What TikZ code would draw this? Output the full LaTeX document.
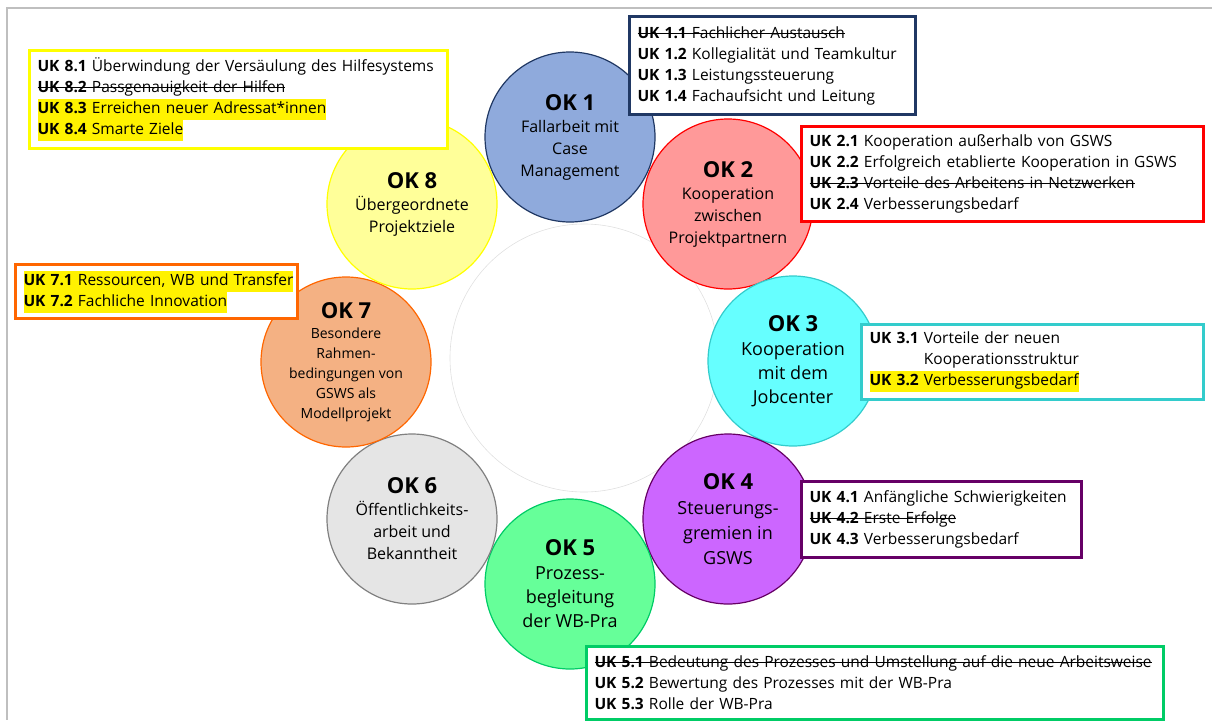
\documentclass[tikz,border=0pt]{standalone}
\usepackage{fontspec}
\setmainfont{Open Sans}
\usepackage{xcolor}
\usepackage{tikz}

\definecolor{okonefill}{HTML}{8FAADC}
\definecolor{okoneline}{HTML}{203864}
\definecolor{oktwofill}{HTML}{FF9999}
\definecolor{oktwoline}{HTML}{FF0000}
\definecolor{okthreefill}{HTML}{66FFFF}
\definecolor{okthreeline}{HTML}{33CCCC}
\definecolor{okfourfill}{HTML}{CC66FF}
\definecolor{okfourline}{HTML}{660066}
\definecolor{okfivefill}{HTML}{66FF99}
\definecolor{okfiveline}{HTML}{00CC66}
\definecolor{oksixfill}{HTML}{E5E5E5}
\definecolor{oksixline}{HTML}{808080}
\definecolor{oksevenfill}{HTML}{F4B183}
\definecolor{oksevenline}{HTML}{FF6600}
\definecolor{okeightfill}{HTML}{FFFF99}
\definecolor{okeightline}{HTML}{FFFF00}
\definecolor{framegray}{HTML}{BFBFBF}

\tikzstyle{okcircle} = [circle, minimum size=170pt, inner sep=0pt, draw, line width=1.2pt,
align=center, font=\fontsize{16}{22}\selectfont]
\tikzstyle{ukbox} = [rectangle, draw, line width=3pt, fill=white, anchor=north west,
align=left, inner xsep=8pt, inner ysep=0pt, font=\fontsize{15.5}{21}\selectfont]

\newcommand{\oktitle}[1]{{\fontsize{22}{26}\selectfont\bfseries #1}}
\newcommand{\ukmark}[1]{{\setlength{\fboxsep}{0pt}\colorbox{yellow}{\strut #1}}}
\newsavebox{\strikebox}
\newcommand{\ukstrike}[1]{\leavevmode\sbox{\strikebox}{#1}\rlap{\usebox{\strikebox}}\rule[0.3em]{\wd\strikebox}{0.8pt}}

\begin{document}
\begin{tikzpicture}[x=1pt, y=-1pt]
        \useasboundingbox (0,0) rectangle (1212,720);

        % page frame
        \draw[framegray, line width=2pt] (1212,8) -- (7,8) -- (7,720);

        % faint ring in the middle
        \node[circle, draw=black!12, line width=0.6pt, minimum size=268pt] at (584,358) (ring) {};

        % the eight circles
        \node[okcircle, draw=okoneline, fill=okonefill] at (570,137) (ok1)
            {\oktitle{OK 1}\\ Fallarbeit mit\\ Case\\ Management};
        \node[okcircle, draw=oktwoline, fill=oktwofill] at (728,204) (ok2)
            {\oktitle{OK 2}\\ Kooperation\\ zwischen\\ Projektpartnern};
        \node[okcircle, draw=okthreeline, fill=okthreefill, font=\fontsize{18}{24}\selectfont]
            at (793,361) (ok3) {\oktitle{OK 3}\\ Kooperation\\ mit dem\\ Jobcenter};
        \node[okcircle, draw=okfourline, fill=okfourfill, font=\fontsize{18}{25}\selectfont]
            at (728,519) (ok4) {\oktitle{OK 4}\\ Steuerungs-\\ gremien in\\ GSWS};
        \node[okcircle, draw=okfiveline, fill=okfivefill, font=\fontsize{18}{24}\selectfont]
            at (570,584) (ok5) {\oktitle{OK 5}\\ Prozess-\\ begleitung\\ der WB-Pra};
        \node[okcircle, draw=oksixline, fill=oksixfill] at (412,519) (ok6)
            {\oktitle{OK 6}\\ Öffentlichkeits-\\ arbeit und\\ Bekanntheit};
        \node[okcircle, draw=oksevenline, fill=oksevenfill, font=\fontsize{14}{20}\selectfont]
            at (346,362) (ok7)
            {\oktitle{OK 7}\\ Besondere\\ Rahmen-\\ bedingungen von\\ GSWS als\\ Modellprojekt};
        \node[okcircle, draw=okeightline, fill=okeightfill] at (412,204) (ok8)
            {\oktitle{OK 8}\\ Übergeordnete\\ Projektziele};

        % Draw boxes of sub categories
        \node[ukbox, draw=okeightline, minimum width=418pt, minimum height=98pt, text width=402pt]
            at (28,49) (uk8) {\textbf{UK 8.1} Überwindung der Versäulung des Hilfesystems\\
            \ukstrike{\textbf{UK 8.2} Passgenauigkeit der Hilfen}\\
            \ukmark{\textbf{UK 8.3} Erreichen neuer Adressat*innen}\\
            \ukmark{\textbf{UK 8.4} Smarte Ziele}};

        \node[ukbox, draw=okoneline, minimum width=286pt, minimum height=98pt, text width=270pt]
            at (628,15) (uk1) {\ukstrike{\textbf{UK 1.1} Fachlicher Austausch}\\
            \textbf{UK 1.2} Kollegialität und Teamkultur\\
            \textbf{UK 1.3} Leistungssteuerung\\
            \textbf{UK 1.4} Fachaufsicht und Leitung};

        \node[ukbox, draw=oktwoline, minimum width=402pt, minimum height=95pt, text width=386pt]
            at (800,125) (uk2) {\textbf{UK 2.1} Kooperation außerhalb von GSWS\\
            \textbf{UK 2.2} Erfolgreich etablierte Kooperation in GSWS\\
            \ukstrike{\textbf{UK 2.3} Vorteile des Arbeitens in Netzwerken}\\
            \textbf{UK 2.4} Verbesserungsbedarf};

        \node[ukbox, draw=okthreeline, minimum width=342pt, minimum height=75pt, text width=326pt]
            at (860,323) (uk3) {\textbf{UK 3.1} Vorteile der neuen\\
            \phantom{\textbf{UK 3.1}~}Kooperationsstruktur\\
            \ukmark{\textbf{UK 3.2} Verbesserungsbedarf}};

        \node[ukbox, draw=okfourline, minimum width=280pt, minimum height=76pt, text width=264pt]
            at (800,480) (uk4) {\textbf{UK 4.1} Anfängliche Schwierigkeiten\\
            \ukstrike{\textbf{UK 4.2} Erste Erfolge}\\
            \textbf{UK 4.3} Verbesserungsbedarf};

        \node[ukbox, draw=okfiveline, minimum width=577pt, minimum height=73pt, text width=561pt]
            at (585,645) (uk5) {\ukstrike{\textbf{UK 5.1} Bedeutung des Prozesses und Umstellung auf die neue Arbeitsweise}\\
            \textbf{UK 5.2} Bewertung des Prozesses mit der WB-Pra\\
            \textbf{UK 5.3} Rolle der WB-Pra};

        \node[ukbox, draw=oksevenline, minimum width=282pt, minimum height=54pt, text width=266pt]
            at (14,263) (uk7) {\ukmark{\textbf{UK 7.1} Ressourcen, WB und Transfer}\\
            \ukmark{\textbf{UK 7.2} Fachliche Innovation}};
    \end{tikzpicture}
\end{document}
